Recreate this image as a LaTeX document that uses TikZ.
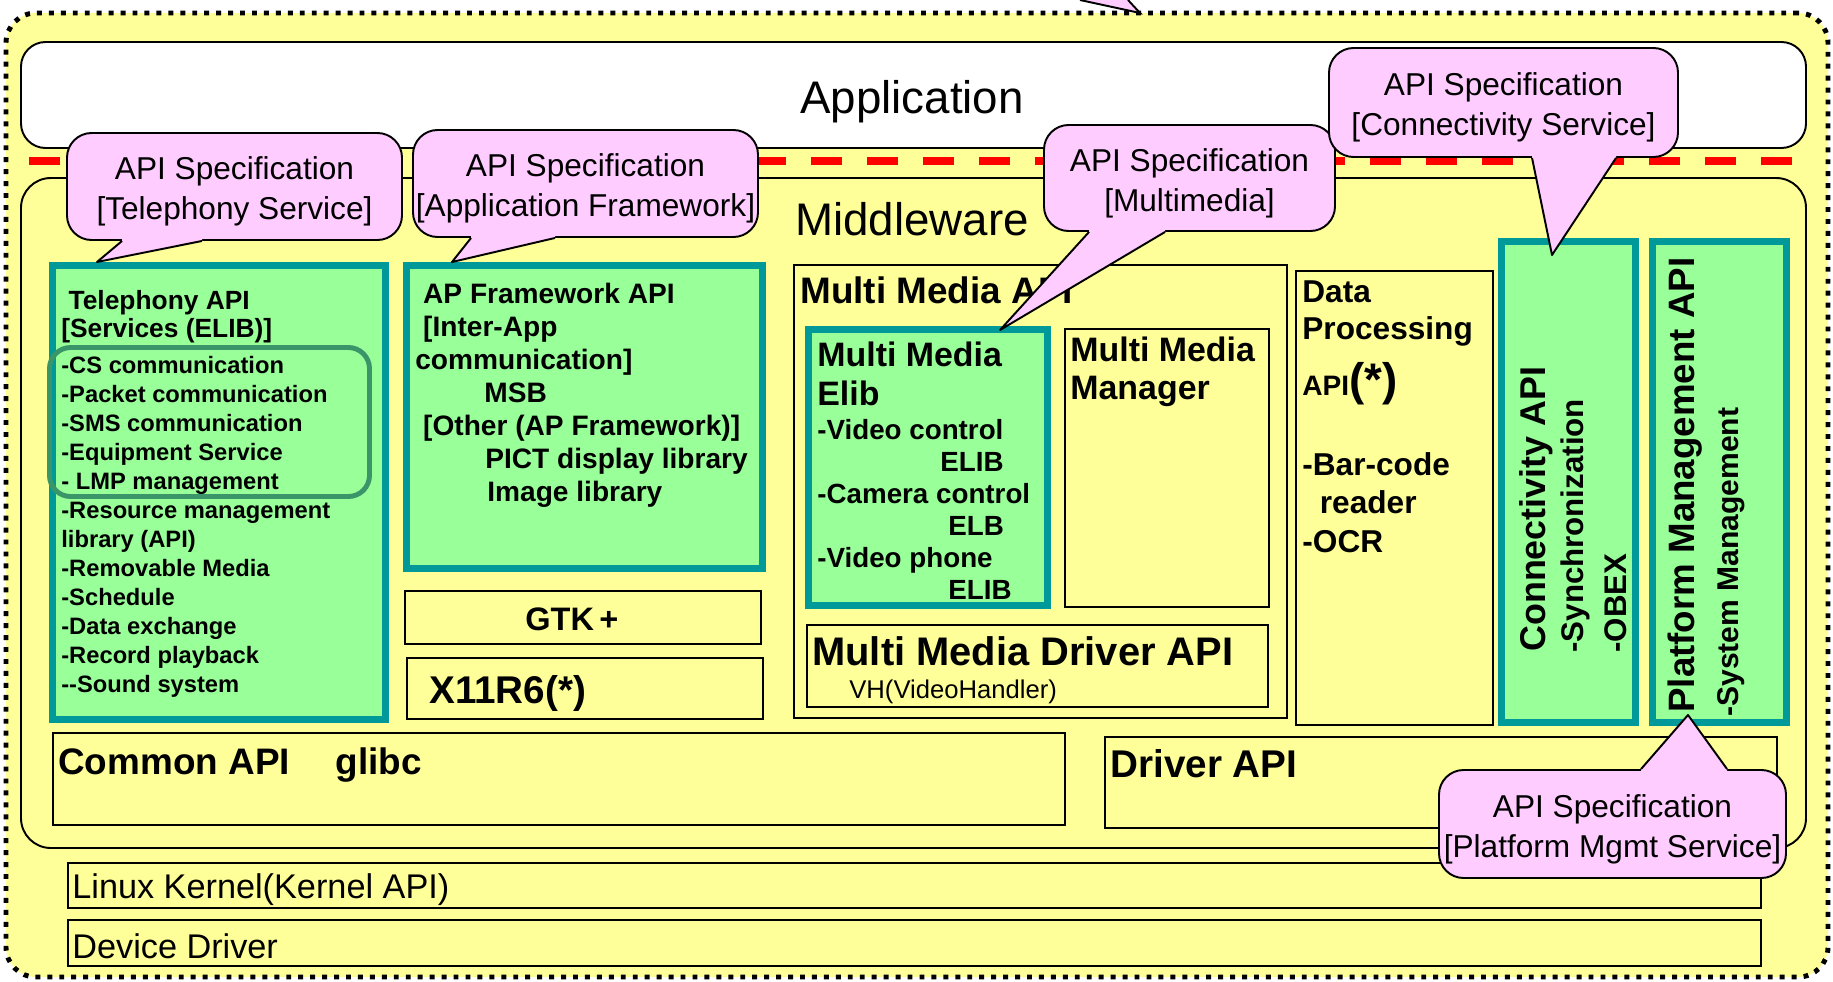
\documentclass[tikz,border=0pt]{standalone}
\usepackage{fontspec}
\setmainfont{Liberation Sans}
\usetikzlibrary{positioning, calc, fit}
\definecolor{layeryellow}{RGB}{255, 255, 153}
\definecolor{apigreen}{RGB}{153, 255, 153}
\definecolor{apiteal}{RGB}{0, 153, 153}
\definecolor{specpink}{RGB}{255, 204, 255}
\definecolor{groupgreen}{RGB}{58, 150, 104}
\newcommand{\fs}[2]{\fontsize{#1}{#2}\selectfont}
\newlength{\pxunit}
\setlength{\pxunit}{0.02cm}
% tail of a spec balloon: balloon, edge anchor, base from, base to, tip, shift into balloon
\newcommand{\spectail}[6]{%
  \fill[specpink] ($(#1.#2)+(#3,#6)$) -- ($(#1.#2)+(#3,0)$) -- (#5) -- ($(#1.#2)+(#4,0)$) -- ($(#1.#2)+(#4,#6)$) -- cycle;
  \draw[line width=1.1pt, line join=round] ($(#1.#2)+(#3,0)$) -- (#5) -- ($(#1.#2)+(#4,0)$);
}

\begin{document}
\begin{tikzpicture}[x=0.02cm, y=-0.02cm,
    layer/.style={draw=black, line width=1.1pt, fill=layeryellow, inner sep=0pt},
    apibox/.style={draw=apiteal, line width=4pt, fill=apigreen, inner sep=0pt},
    spec/.style={draw=black, line width=1.1pt, fill=specpink, rounded corners=14pt, inner sep=0pt},
    spectext/.style={inner sep=0pt, align=center, font=\fs{18}{22.8}, yshift=-5\pxunit},
    lbl/.style={inner sep=0pt, anchor=base west},
    blk/.style={inner sep=0pt, anchor=north west, align=left},
    vlbl/.style={inner sep=0pt, anchor=base west, rotate=90}]
  \path[use as bounding box, fill=white] (0,0) rectangle (1833,981);

  \node[layer, line width=2.8pt, dash pattern=on 2.8pt off 4pt, rounded corners=17pt, fit={(6,13) (1828,977)}] (terminal) {};
  \coordinate (topTip) at (1140,13);
  \fill[specpink] (1080,0) -- (topTip) -- (1128,0) -- cycle;
  \draw[line width=1.1pt] (1080,0) -- (topTip) -- (1128,0);

  \node[layer, fill=white, rounded corners=14pt, fit={(21,42) (1806,148)}] (app) {};
  \node[lbl, font=\fs{26}{30}] (appLabel) at (800,113) {Application};
  \draw[red, line width=4.5pt, dash pattern=on 17.6pt off 14.2pt] (29,161) -- (1796,161);

  \node[layer, rounded corners=17pt, fit={(21,178) (1806,848)}] (mw) {};
  \node[lbl, font=\fs{26}{30}] (mwLabel) at (795,235) {Middleware};

  % telephony
  \node[apibox, fit={(52.5,265.5) (385.5,719.5)}] (tel) {};
  \node[draw=groupgreen, line width=2.8pt, rounded corners=12pt, inner sep=0pt, fit={(49.5,347.5) (369.5,496.5)}] (telGroup) {};
  \node[blk, font=\bfseries\fs{15}{16}] (telHead) at (61,290) {~Telephony API\\{}[Services (ELIB)]};
  \node[blk, font=\bfseries\fs{13.5}{16.5}] (telList) at (61,356) {-CS communication\\-Packet communication\\-SMS communication\\-Equipment Service\\- LMP management\\-Resource management\\library (API)\\-Removable Media\\-Schedule\\-Data exchange\\-Record playback\\-{}-Sound system};

  % application framework
  \node[apibox, fit={(406.5,265.5) (762.5,568.5)}] (apf) {};
  \node[blk, font=\bfseries\fs{16}{18.8}] (apfText) at (415,283) {~AP Framework API\\~{}[Inter-App\\communication]\\\hspace*{69\pxunit}MSB\\~{}[Other (AP Framework)]\\\hspace*{70\pxunit}PICT display library\\\hspace*{72\pxunit}Image library};
  \node[layer, fit={(405,591) (761,644)}] (gtk) {};
  \node[lbl, font=\bfseries\fs{18.5}{20}] (gtkLabel) at (525,630) {GTK\,+};
  \node[layer, fit={(407,658) (763,719)}] (x11) {};
  \node[lbl, font=\bfseries\fs{22}{24}] (x11Label) at (429,703) {X11R6(*)};

  % multimedia
  \node[layer, fit={(794,265) (1287,718)}] (mm) {};
  \node[lbl, font=\bfseries\fs{21}{24}] (mmLabel) at (800,303) {Multi Media API};
  \node[apibox, fit={(808.5,329.5) (1047.5,605.5)}] (mmElib) {};
  \node[blk, font=\bfseries\fs{19.3}{22.2}] (mmElibHead) at (817,342) {Multi Media\\Elib};
  \node[blk, font=\bfseries\fs{15.8}{18.2}] (mmElibList) at (817,419) {-Video control\\\hspace*{123\pxunit}ELIB\\-Camera control\\\hspace*{131\pxunit}ELB\\-Video phone\\\hspace*{131\pxunit}ELIB};
  \node[layer, fit={(1065,329) (1269,607)}] (mmMgr) {};
  \node[blk, font=\bfseries\fs{19.3}{21.6}] (mmMgrText) at (1070,337) {Multi Media\\Manager};
  \node[layer, fit={(807,625) (1268,707)}] (mmDrv) {};
  \node[lbl, font=\bfseries\fs{22.7}{24}] (mmDrvLabel) at (812,665) {Multi Media Driver API};
  \node[lbl, font=\fs{14.6}{16}] (vhLabel) at (849,698) {VH(VideoHandler)};

  % data processing
  \node[layer, fit={(1296,271) (1493,725)}] (data) {};
  \node[blk, font=\bfseries\fs{18}{21}] (dataHead) at (1302,280) {Data\\Processing};
  \node[lbl, font=\bfseries] (dataApi) at (1302,395) {{\fs{16}{18}API}{\fs{26}{28}(*)}};
  \node[blk, font=\bfseries\fs{18}{22}] (dataList) at (1302,452) {-Bar-code\\~~reader\\-OCR};

  % connectivity and platform management
  \node[apibox, fit={(1501.5,241.5) (1635.5,722.5)}] (conn) {};
  \node[vlbl, font=\bfseries\fs{20.4}{22}] (connTitle) at (1545,652) {Connectivity API};
  \node[vlbl, font=\bfseries\fs{17.8}{20}] (connSync) at (1583,653) {-Synchronization};
  \node[vlbl, font=\bfseries\fs{17.8}{20}] (connObex) at (1626,653) {-OBEX};
  \node[apibox, fit={(1652.5,241.5) (1786.5,722.5)}] (pfm) {};
  \node[vlbl, font=\bfseries\fs{20.9}{22}] (pfmTitle) at (1694,713) {Platform Management API};
  \node[vlbl, font=\bfseries\fs{17.1}{20}] (pfmSys) at (1738,717) {-System Management};

  % lower layers
  \node[layer, fit={(53,733) (1065,825)}] (common) {};
  \node[lbl, font=\bfseries\fs{21}{24}] (commonLabel) at (58,774) {Common API\hspace{26pt}glibc};
  \node[layer, fit={(1105,737) (1777,828)}] (drv) {};
  \node[lbl, font=\bfseries\fs{22}{24}] (drvLabel) at (1110,777) {Driver API};
  \node[layer, fit={(68,863) (1761,908)}] (kernel) {};
  \node[lbl, font=\fs{19.5}{22}] (kernelLabel) at (72,898) {Linux Kernel(Kernel API)};
  \node[layer, fit={(68,920) (1761,966)}] (dd) {};
  \node[lbl, font=\fs{19.5}{22}] (ddLabel) at (72,958) {Device Driver};

  % spec balloons
  \node[spec, fit={(67,133) (402,240)}] (specTel) {};
  \node[spec, fit={(413,130) (758,237)}] (specApf) {};
  \node[spec, fit={(1044,125) (1335,231)}] (specMm) {};
  \node[spec, fit={(1329,48) (1678,157)}] (specConn) {};
  \node[spec, fit={(1439,770) (1786,878)}] (specPfm) {};
  \node[spectext] (specTelText) at (specTel.center) {API Specification\\{}[Telephony Service]};
  \node[spectext] (specApfText) at (specApf.center) {API Specification\\{}[Application Framework]};
  \node[spectext] (specMmText) at (specMm.center) {API Specification\\{}[Multimedia]};
  \node[spectext] (specConnText) at (specConn.center) {API Specification\\{}[Connectivity Service]};
  \node[spectext] (specPfmText) at (specPfm.center) {API Specification\\{}[Platform Mgmt Service]};
  \coordinate (telTip) at (97,262);
  \coordinate (apfTip) at (452,262);
  \coordinate (mmTip) at (1000,330);
  \coordinate (connTip) at (1552,255);
  \coordinate (pfmTip) at (1688,715);
  \spectail{specTel}{south west}{56}{136}{telTip}{-2}
  \spectail{specApf}{south west}{59}{143}{apfTip}{-2}
  \spectail{specMm}{south west}{46}{122}{mmTip}{-2}
  \spectail{specConn}{south west}{204}{288}{connTip}{-2}
  \spectail{specPfm}{north west}{203}{289}{pfmTip}{2}
\end{tikzpicture}
\end{document}
